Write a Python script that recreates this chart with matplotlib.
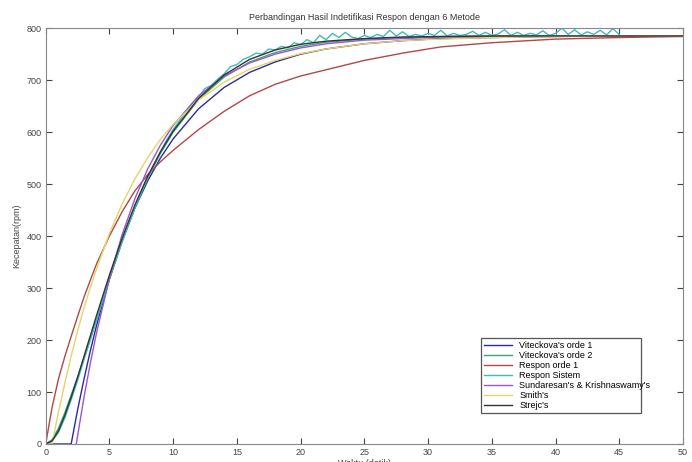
import matplotlib
matplotlib.use('Agg')
import matplotlib.pyplot as plt
import numpy as np

plt.rcParams['font.family'] = ['Liberation Sans Narrow', 'Liberation Sans', 'DejaVu Sans']

# time grid of the model curves (s)
t_model = [0, 0.5, 1, 1.5, 2, 2.5, 3, 3.5, 4, 5, 6, 7, 8, 9, 10, 12, 14, 16, 18, 20,
           22, 25, 28, 31, 35, 40, 45, 50]

vit1 = [0, 0, 0, 0, 0, 65, 124, 179, 229, 317, 391, 454, 506, 550, 587, 645, 686, 715, 735, 750,
        760, 770, 776, 780, 782, 784, 785, 785]
vit2 = [0, 8, 30, 60, 94, 128, 165, 202, 240, 317, 389, 454, 511, 559, 600, 663, 706, 735, 753, 765,
        773, 779, 782, 784, 785, 785, 785, 785]
orde1 = [0, 70, 125, 168, 207, 245, 282, 315, 347, 400, 447, 487, 518, 543, 565, 605, 640, 670, 692, 708,
         720, 738, 752, 764, 772, 779, 782, 784]
smith = [0, 0, 61, 117, 169, 217, 261, 301, 338, 405, 462, 510, 551, 586, 615, 662, 696, 721, 738, 751,
         760, 770, 776, 779, 782, 784, 785, 785]
strejc = [0, 6, 25, 55, 90, 128, 168, 208, 248, 325, 396, 460, 515, 562, 602, 665, 710, 740, 758, 769,
          775, 780, 783, 784, 785, 785, 785, 785]

# Sundaresan & Krishnaswamy (starts after dead time)
t_sk = [2.4, 3, 3.5, 4, 5, 6, 7, 8, 9, 10, 12, 14, 16, 18, 20, 22, 25, 28, 31, 35, 40, 45, 50]
sk = [0, 89, 155, 215, 318, 403, 472, 529, 575, 613, 670, 708, 733, 750, 762, 770, 777, 780, 783, 784,
      785, 785, 785]

# measured system response, sampled every 0.5 s
sistem = [0, 5, 22, 50, 85, 122, 162, 200, 240, 280, 318, 355, 390, 423, 455, 485, 512, 538, 562, 585,
          605, 622, 640, 655, 668, 684, 690, 702, 712, 726, 730, 740, 745, 752, 750, 760, 758, 765, 762, 772,
          768, 778, 772, 786, 778, 790, 782, 792, 783, 780, 786, 782, 788, 784, 796, 785, 793, 784, 788, 785,
          790, 786, 796, 785, 790, 786, 788, 794, 786, 792, 786, 789, 797, 786, 792, 786, 790, 787, 795, 786,
          790, 800, 788, 797, 787, 793, 788, 796, 787, 799, 788]
t_sis = np.arange(len(sistem)) * 0.5

fig = plt.figure(figsize=(6.92, 4.62), dpi=100)
ax = fig.add_axes([0.066, 0.039, 0.921, 0.9])

ax.plot(t_model, vit1, color='#2a2aa0', lw=1.0, label="Viteckova's orde 1")
ax.plot(t_model, vit2, color='#3aa86a', lw=1.0, label="Viteckova's orde 2")
ax.plot(t_model, orde1, color='#b04848', lw=1.0, label='Respon orde 1')
ax.plot(t_sis, sistem, color='#3cbcbc', lw=1.0, label='Respon Sistem')
ax.plot(t_sk, sk, color='#9a55d5', lw=1.0, label="Sundaresan's & Krishnaswamy's")
ax.plot(t_model, smith, color='#e6d36a', lw=1.0, label="Smith's")
ax.plot(t_model, strejc, color='#333333', lw=1.0, label="Strejc's")

ax.set_xlim(0, 50)
ax.set_ylim(0, 800)
ax.set_xticks(np.arange(0, 51, 5))
ax.set_yticks(np.arange(0, 801, 100))
ax.tick_params(direction='in', top=True, right=True, labelsize=6.5, length=4,
               colors='#444444', pad=3)
for s in ax.spines.values():
    s.set_color('#888888')

ax.set_title('Perbandingan Hasil Indetifikasi Respon dengan 6 Metode', fontsize=6.5, pad=6,
             color='#333333')
ax.set_ylabel('Kecepatan(rpm)', fontsize=6.5, color='#444444', labelpad=4)
ax.set_xlabel('Waktu (detik)', fontsize=6.5, color='#444444', labelpad=1)

leg = ax.legend(loc='lower left', bbox_to_anchor=(0.683, 0.0745, 0.251, 0.175), mode='expand',
                fontsize=6.5, handlelength=3.1, labelspacing=0.1, borderpad=0.35,
                fancybox=False, framealpha=1, borderaxespad=0)
leg.get_frame().set_edgecolor('#555555')
leg.get_frame().set_linewidth(0.9)

fig.savefig('out.png', dpi=100)
